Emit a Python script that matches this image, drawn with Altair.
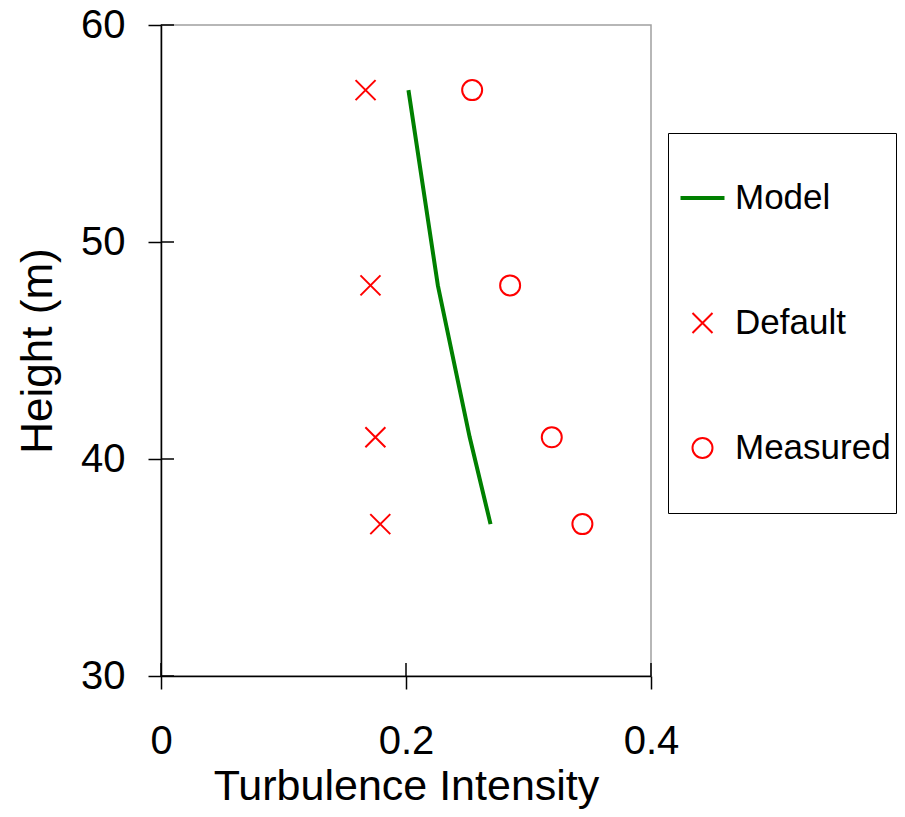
import altair as alt
import pandas as pd

# ---- data ----
heights = [57, 48, 41, 37]
model_ti = [0.202, 0.226, 0.252, 0.269]
default_ti = [0.167, 0.171, 0.175, 0.179]
measured_ti = [0.254, 0.285, 0.319, 0.344]

series_names = ["Model", "Default", "Measured"]
series_colors = ["#008000", "#ff0000", "#ff0000"]
series_shapes = [
    "M-2.2,-0.1L2.2,-0.1M-2.2,0.1L2.2,0.1",
    "M-1,-1L1,1M-1,1L1,-1",
    "circle",
]

x_ticks = [0, 0.2, 0.4]
y_ticks = [30, 40, 50, 60]
x_title = "Turbulence Intensity"
y_title = "Height (m)"

# ---- layout ----
W, H = 490, 651
FONT = "Liberation Sans"

model_df = pd.DataFrame({"ti": model_ti, "h": heights, "series": ["Model"] * len(heights)})
points_df = pd.DataFrame({
    "ti": default_ti + measured_ti,
    "h": heights + heights,
    "series": ["Default"] * len(heights) + ["Measured"] * len(heights),
})
xtick_df = pd.DataFrame({"ti": x_ticks})
ytick_df = pd.DataFrame({"h": y_ticks})

xscale = alt.Scale(domain=[0, 0.4], nice=False, zero=False)
yscale = alt.Scale(domain=[30, 60], nice=False, zero=False)

legend = alt.Legend(
    title=None, orient="none", legendX=507, legendY=108,
    symbolSize=400, symbolStrokeWidth=2, symbolFillColor="transparent",
    symbolOpacity=1,
    labelFontSize=35, labelFont=FONT, labelColor="black", labelLimit=400,
    padding=5, symbolOffset=12, labelOffset=15,
    clipHeight=120, rowPadding=5,
    strokeColor="black", fillColor="white",
)

color = alt.Color("series:N", scale=alt.Scale(domain=series_names, range=series_colors), legend=legend)
shape = alt.Shape("series:N", scale=alt.Scale(domain=series_names, range=series_shapes), legend=legend)

x_axis = alt.Axis(
    title=x_title, values=x_ticks, format="~g", grid=False, labelFlush=False,
    tickSize=13, tickWidth=1.5, tickColor="black",
    domainColor="black", domainWidth=1.5,
    labelFontSize=40, labelFont=FONT, labelColor="black", labelPadding=32,
    titleFontSize=43, titleFont=FONT, titleFontWeight="normal", titleColor="black",
    titlePadding=4,
)
y_axis = alt.Axis(
    title=y_title, values=y_ticks, grid=False, labelFlush=False,
    tickSize=13, tickWidth=1.5, tickColor="black",
    domainColor="black", domainWidth=1.5,
    labelFontSize=40, labelFont=FONT, labelColor="black", labelPadding=23,
    titleFontSize=44, titleFont=FONT, titleFontWeight="normal", titleColor="black",
    titlePadding=20,
)

line = alt.Chart(model_df).mark_line(strokeWidth=4, opacity=1).encode(
    x=alt.X("ti:Q", scale=xscale, axis=x_axis, title=x_title),
    y=alt.Y("h:Q", scale=yscale, axis=y_axis, title=y_title),
    color=color,
    order=alt.Order("h:Q"),
)

points = alt.Chart(points_df).mark_point(filled=False, size=400, strokeWidth=2, opacity=1).encode(
    x=alt.X("ti:Q", scale=xscale, axis=x_axis, title=x_title),
    y=alt.Y("h:Q", scale=yscale, axis=y_axis, title=y_title),
    color=color,
    shape=shape,
)

# inward halves of the crossing tick marks
ytick_in = alt.Chart(ytick_df).mark_rule(color="black", strokeWidth=1.5).encode(
    y=alt.Y("h:Q", scale=yscale, axis=y_axis, title=y_title),
    x=alt.value(0), x2=alt.value(13),
)
xtick_in = alt.Chart(xtick_df).mark_rule(color="black", strokeWidth=1.5).encode(
    x=alt.X("ti:Q", scale=xscale, axis=x_axis, title=x_title),
    y=alt.value(H), y2=alt.value(H - 13),
)

chart = alt.layer(line, points, ytick_in, xtick_in).properties(
    width=W, height=H,
    autosize=alt.AutoSizeParams(type="none"),
    padding={"left": 153, "top": 17, "right": 246, "bottom": 133},
    background="white",
).configure_view(stroke="#a0a0a0", strokeWidth=1.5)

chart.save("out.html", embed_options={"renderer": "svg", "actions": False})
